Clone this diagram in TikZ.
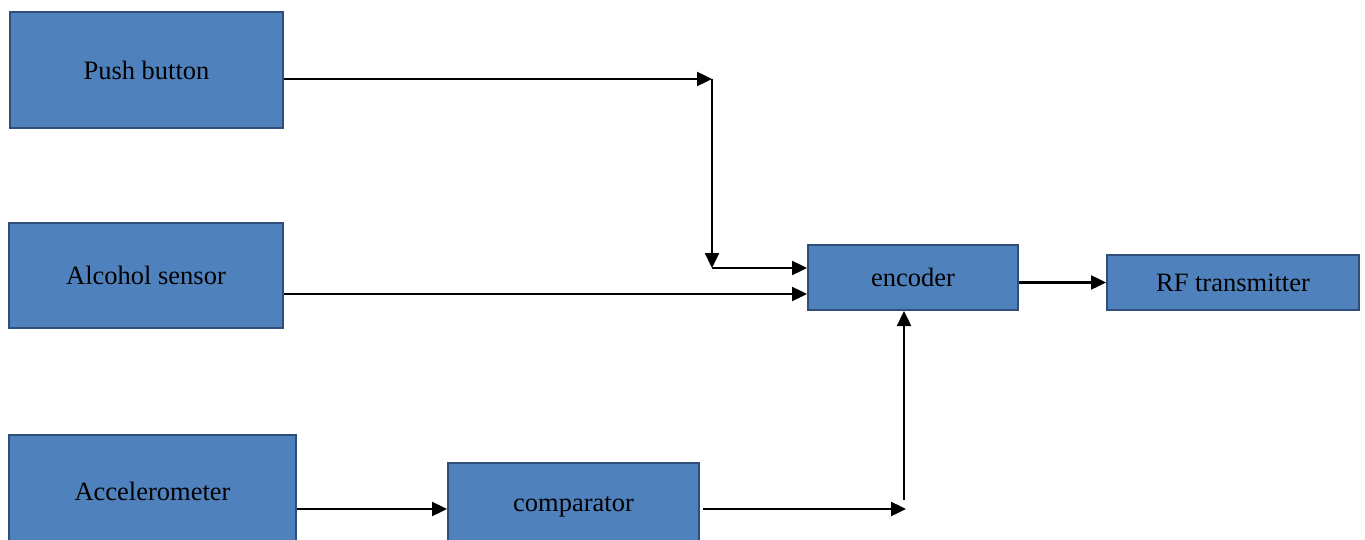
\documentclass[tikz,border=0pt]{standalone}
\usepackage{fontspec}
\setmainfont{Liberation Serif}
\usetikzlibrary{arrows.meta}
\definecolor{boxfill}{HTML}{4F81BD}
\definecolor{boxline}{HTML}{2F4F7A}
\begin{document}
\begin{tikzpicture}[x=1pt,y=-1pt,
  blk/.style={draw=boxline, fill=boxfill, line width=2pt, inner sep=0pt,
    font=\fontsize{26.5}{30}\selectfont},
  arr/.style={line width=2.4pt, -{Triangle[length=15pt,width=14pt]}}]
\useasboundingbox (0,0) rectangle (1365,540);
\clip (0,0) rectangle (1365,540);
\node[blk, minimum width=273pt, minimum height=116pt] (push) at (146.5,70) {\raisebox{-2pt}{Push button}};
\node[blk, minimum width=274pt, minimum height=105pt] (alc) at (146,275.5) {\raisebox{-2.5pt}{Alcohol sensor}};
\node[blk, minimum width=287pt, minimum height=112pt] (acc) at (152.5,491) {\raisebox{-1pt}{Accelerometer}};
\node[blk, minimum width=251pt, minimum height=88pt] (comp) at (573.5,507) {\raisebox{-4pt}{comparator}};
\node[blk, minimum width=210pt, minimum height=65pt] (enc) at (913,277.5) {\raisebox{-2pt}{encoder}};
\node[blk, minimum width=252pt, minimum height=55pt] (rf) at (1233,282.5) {\raisebox{-2pt}{RF transmitter}};
\coordinate (j1) at (712,79);
\coordinate (j2) at (712,268);
\coordinate (j3) at (906,509);
\coordinate (j4) at (904,500);
\coordinate (c0) at (703,509);
\draw[arr] (push.east |- j1) -- (j1);
\draw[arr] (j1) -- (j2);
\draw[arr] (j2) -- (enc.west |- j2);
\draw[arr] (alc.east |- 0,294) -- (enc.west |- 0,294);
\draw[arr] (acc.east |- 0,509) -- (comp.west |- 0,509);
\draw[arr] (c0) -- (j3);
\draw[arr] (j4) -- (enc.south -| j4);
\draw[arr] ([yshift=-5pt]enc.east) -- (rf.west);
\end{tikzpicture}
\end{document}
